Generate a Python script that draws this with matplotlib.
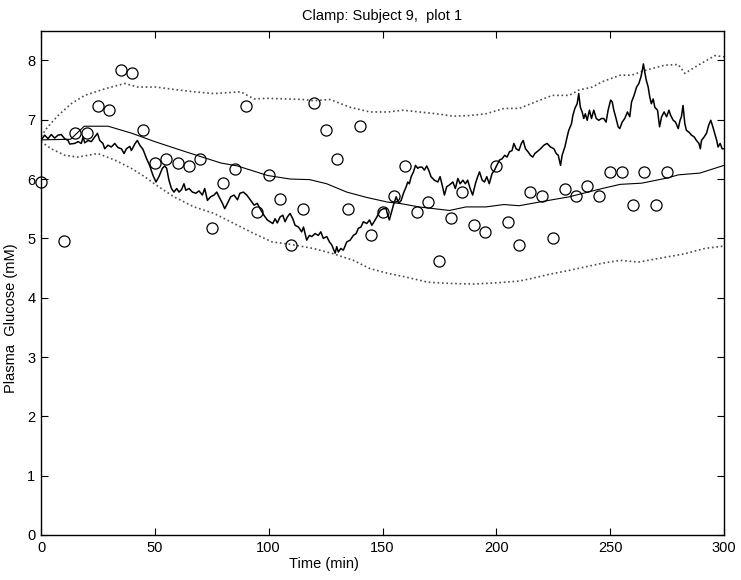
import matplotlib
matplotlib.use("Agg")
import matplotlib.pyplot as plt

plt.rcParams['font.family'] = ['Liberation Sans', 'DejaVu Sans']
plt.rcParams['font.size'] = 10.5

# measured plasma glucose (circles, every 5 min)
sample_t = [0, 10, 15, 20, 25, 30, 35, 40, 45, 50, 55, 60, 65, 70, 75, 80, 85, 90, 95, 100,
            105, 110, 115, 120, 125, 130, 135, 140, 145, 150, 155, 160, 165, 170, 175, 180,
            185, 190, 195, 200, 205, 210, 215, 220, 225, 230, 235, 240, 245, 250, 255, 260,
            265, 270, 275]
sample_g = [5.95, 4.95, 6.78, 6.78, 7.23, 7.17, 7.83, 7.78, 6.83, 6.27, 6.33, 6.27, 6.22, 6.33,
            5.17, 5.94, 6.17, 7.23, 5.44, 6.06, 5.67, 4.89, 5.50, 7.28, 6.83, 6.34, 5.50, 6.89,
            5.05, 5.45, 5.72, 6.22, 5.45, 5.61, 4.61, 5.34, 5.78, 5.22, 5.11, 6.22, 5.28, 4.89,
            5.78, 5.72, 5.00, 5.84, 5.72, 5.89, 5.72, 6.11, 6.11, 5.56, 6.11, 5.56, 6.11]

# model mean
mean_t = [0, 13, 19, 29.5, 40, 50, 64.3, 79, 86.3, 99.5, 109.4, 118, 125.5, 134.3, 143, 152.4,
          157.4, 166, 179.4, 186.7, 195.4, 203.4, 210, 217.2, 224.5, 232, 246.5, 254.4, 263.8,
          275.4, 279.9, 289.4, 300]
mean_g = [6.66, 6.67, 6.89, 6.89, 6.77, 6.63, 6.45, 6.27, 6.22, 6.06, 6.0, 5.99, 5.92, 5.78,
          5.69, 5.61, 5.59, 5.53, 5.47, 5.53, 5.53, 5.57, 5.55, 5.6, 5.65, 5.7, 5.84, 5.91, 5.93,
          6.02, 6.07, 6.1, 6.23]

# upper / lower bounds
upper_t = [0, 3, 7.5, 13.3, 19.2, 28, 36.8, 42.6, 50.5, 58.4, 67.2, 76, 87.7, 93.6, 99.5, 108,
           115.2, 119.6, 127, 135.7, 144.5, 152.4, 159, 166.3, 173.6, 181, 188.3, 195.5, 203.4,
           210, 217.2, 224.6, 232, 236.3, 242.2, 246.5, 254.4, 259.4, 265.3, 274, 279.9, 282.8,
           288.7, 296, 300]
upper_g = [6.72, 6.88, 7.07, 7.27, 7.41, 7.52, 7.61, 7.55, 7.55, 7.51, 7.47, 7.44, 7.47, 7.35,
           7.36, 7.35, 7.34, 7.32, 7.34, 7.21, 7.13, 7.13, 7.16, 7.13, 7.10, 7.06, 7.07, 7.10,
           7.19, 7.19, 7.30, 7.41, 7.41, 7.50, 7.55, 7.64, 7.75, 7.75, 7.83, 7.92, 7.93, 7.78,
           7.92, 8.08, 8.06]
lower_t = [0, 4.5, 10.4, 16.2, 25, 32.4, 39.7, 45.5, 50.5, 58.4, 67.2, 76, 84.8, 93.6, 101.5,
           109.4, 119.6, 128.4, 137.2, 144.5, 152.4, 160, 170, 180, 190, 200, 210, 215, 224,
           232, 246.5, 254.4, 262.3, 271.1, 282.8, 291.6, 300]
lower_g = [6.63, 6.51, 6.40, 6.37, 6.43, 6.32, 6.18, 6.04, 5.90, 5.70, 5.53, 5.42, 5.25, 5.08,
           4.94, 4.90, 4.83, 4.74, 4.63, 4.49, 4.41, 4.35, 4.26, 4.24, 4.23, 4.25, 4.28, 4.32,
           4.40, 4.46, 4.58, 4.63, 4.60, 4.66, 4.74, 4.83, 4.87]

# simulated trace
trace_t = [0, 1.6, 3.1, 4.5, 6.0, 7.5, 8.9, 10.4, 11.9, 12.6, 14.8, 16.3, 17.7, 18.5, 19.2,
           20.7, 22.1, 23.6, 24.8, 25.8, 27.2, 28.0, 29.4, 30.9, 32.4, 33.8, 35.3, 36.5, 37.5,
           39.0, 39.7, 41.2, 42.3, 43.4, 44.8, 46.3, 47.7, 49.2, 50.5,
           51.8, 53.3, 54.3, 55.2, 56.2, 57.3, 58.4, 59.6, 60.6, 61.7, 62.8, 63.6, 65.0, 66.5,
           68.0, 69.4, 70.9, 71.9, 73.1, 74.5, 76.0, 77.2, 78.2, 79.7, 80.7, 81.9, 83.3, 84.8,
           86.3, 87.4, 88.9, 90.4, 92.1, 93.6, 95.0, 96.2, 97.9, 99.4,
           101.8, 102.8, 103.8, 105.0, 106.2, 107.2, 108.2, 109.4, 110.6, 111.6, 113.1, 114.5,
           115.3, 116.7, 117.9, 118.9, 120.4, 121.8, 122.9, 124.0, 125.5, 126.7, 127.7, 129.2,
           129.9, 130.6, 131.7, 132.8, 134.3, 135.8, 137.2, 138.4, 139.4, 140.5, 141.6, 143.1,
           144.3, 145.3, 146.3, 147.5, 149.0, 150.4,
           151.6, 152.3, 153.0, 153.8, 154.8, 156.0, 157.1, 158.2, 159.2, 160.4, 161.1, 161.8,
           162.6, 163.6, 164.5, 165.5, 166.2, 167.4, 168.4, 169.4, 170.3, 171.3, 172.8, 174.3,
           175.3, 176.2, 177.2, 178.2, 179.4, 180.9, 182.0, 183.1, 184.1, 185.3, 186.4, 187.4,
           188.5, 189.6, 190.8, 191.8, 192.6, 193.8, 194.8, 195.8, 196.9, 198.1, 199.2, 200.2,
           201.4, 202.5,
           203.7, 204.7, 205.8, 206.9, 207.7, 208.7, 209.9, 211.0, 211.8, 212.8, 213.9, 215.0,
           216.0, 216.9, 217.9, 219.4, 220.9, 222.3, 223.8, 225.3, 226.3, 227.2, 228.2, 228.9,
           230.1, 231.1, 231.8, 233.0, 233.6, 234.5, 235.5, 236.2, 236.9, 237.7, 238.4, 239.1,
           239.9, 240.9, 241.8, 242.8, 243.9, 245.0, 246.2, 247.2, 248.2, 249.1, 250.2, 250.9,
           251.6, 252.6,
           253.5, 254.2, 255.3, 256.4, 257.6, 258.6, 259.4, 260.5, 261.6, 262.6, 263.5, 264.1,
           264.6, 265.2, 265.9, 266.7, 267.4, 268.1, 268.9, 269.6, 270.8, 271.7, 272.6, 273.7,
           274.8, 275.8, 276.6, 277.7, 278.7, 279.9, 280.7, 281.3, 282.0, 282.8, 283.5, 284.6,
           285.7, 286.9, 287.9, 289.0, 289.6, 290.1, 291.3, 292.3, 293.3, 294.2, 295.1, 295.9,
           296.8, 297.4, 298.3, 299.2, 300.0]
trace_g = [6.65, 6.74, 6.68, 6.75, 6.69, 6.74, 6.75, 6.68, 6.65, 6.59, 6.60, 6.63, 6.60, 6.71,
           6.61, 6.65, 6.63, 6.71, 6.77, 6.65, 6.60, 6.51, 6.57, 6.54, 6.60, 6.53, 6.51, 6.43,
           6.51, 6.55, 6.48, 6.59, 6.65, 6.57, 6.50, 6.35, 6.23, 6.06, 5.95,
           6.04, 6.18, 6.22, 6.18, 5.98, 5.84, 5.78, 5.84, 5.78, 5.82, 5.92, 5.81, 5.84, 5.78,
           5.76, 5.80, 5.73, 5.84, 5.64, 5.70, 5.73, 5.78, 5.70, 5.59, 5.50, 5.59, 5.70, 5.73,
           5.65, 5.76, 5.78, 5.73, 5.64, 5.56, 5.59, 5.50, 5.39, 5.31,
           5.25, 5.33, 5.26, 5.36, 5.39, 5.28, 5.36, 5.42, 5.33, 5.22, 5.19, 5.11, 5.19, 4.97,
           5.05, 5.03, 5.08, 5.05, 5.11, 5.00, 5.03, 4.94, 4.89, 4.75, 4.86, 4.77, 4.83, 4.80,
           4.94, 4.97, 5.05, 5.08, 5.17, 5.19, 5.28, 5.25, 5.31, 5.22, 5.28, 5.36, 5.47, 5.50,
           5.50, 5.39, 5.31, 5.42, 5.56, 5.70, 5.59, 5.64, 5.76, 5.87, 5.95, 5.92, 6.04, 6.12,
           6.23, 6.18, 6.20, 6.20, 6.15, 6.22, 6.15, 6.04, 5.98, 5.95, 6.04, 5.90, 5.73, 5.87,
           5.90, 5.95, 5.84, 6.01, 5.92, 5.98, 5.92, 5.98, 5.84, 5.73, 5.92, 6.04, 6.12, 5.98,
           5.95, 6.04, 5.92, 6.09, 6.15, 6.23, 6.32, 6.34,
           6.40, 6.37, 6.46, 6.48, 6.60, 6.51, 6.48, 6.60, 6.65, 6.51, 6.46, 6.40, 6.37, 6.43,
           6.46, 6.51, 6.57, 6.60, 6.54, 6.51, 6.43, 6.40, 6.23, 6.40, 6.54, 6.71, 6.82, 6.93,
           7.07, 7.19, 7.27, 7.44, 7.21, 7.13, 7.02, 7.10, 6.99, 7.16, 7.02, 7.16, 7.02, 6.99,
           7.02, 7.02, 6.96, 7.16, 7.33, 7.30, 7.16, 7.02,
           6.88, 6.85, 6.96, 7.02, 7.13, 7.05, 7.30, 7.41, 7.55, 7.61, 7.72, 7.83, 7.94, 7.80,
           7.66, 7.55, 7.38, 7.27, 7.35, 7.21, 7.16, 6.88, 7.05, 7.13, 7.05, 7.16, 7.07, 6.99,
           6.96, 6.85, 6.99, 7.05, 7.24, 6.93, 6.82, 6.79, 6.74, 6.71, 6.65, 6.60, 6.51, 6.65,
           6.71, 6.77, 6.91, 6.99, 6.88, 6.77, 6.65, 6.54, 6.60, 6.51, 6.51]

fig = plt.figure(figsize=(7.41, 5.8), dpi=100)
ax = fig.add_axes([41 / 741, 45 / 580, 683 / 741, 504.3 / 580])

ax.plot(upper_t, upper_g, ':', color='0.3', lw=1.2)
ax.plot(lower_t, lower_g, ':', color='0.3', lw=1.2)
ax.plot(mean_t, mean_g, '-', color='black', lw=0.8)
ax.plot(trace_t, trace_g, '-', color='black', lw=1.1)
ax.plot(sample_t, sample_g, 'o', mfc='none', mec='black', mew=0.9, ms=8, clip_on=False)

ax.set_xlim(0, 300)
ax.set_ylim(0, 8.5)
ax.set_xticks([0, 50, 100, 150, 200, 250, 300])
ax.set_yticks([0, 1, 2, 3, 4, 5, 6, 7, 8])
ax.tick_params(direction='in', length=5, width=0.8, top=True, right=True, pad=4)
for s in ax.spines.values():
    s.set_linewidth(1.0)

ax.set_title('Clamp: Subject 9,  plot 1', fontsize=10.5, pad=8)
ax.set_xlabel('Time (min)')
ax.xaxis.set_label_coords(0.414, -0.044)
ax.set_ylabel('Plasma  Glucose (mM)')
ax.yaxis.set_label_coords(-0.033, 0.43)

fig.savefig('out.png', dpi=100)
